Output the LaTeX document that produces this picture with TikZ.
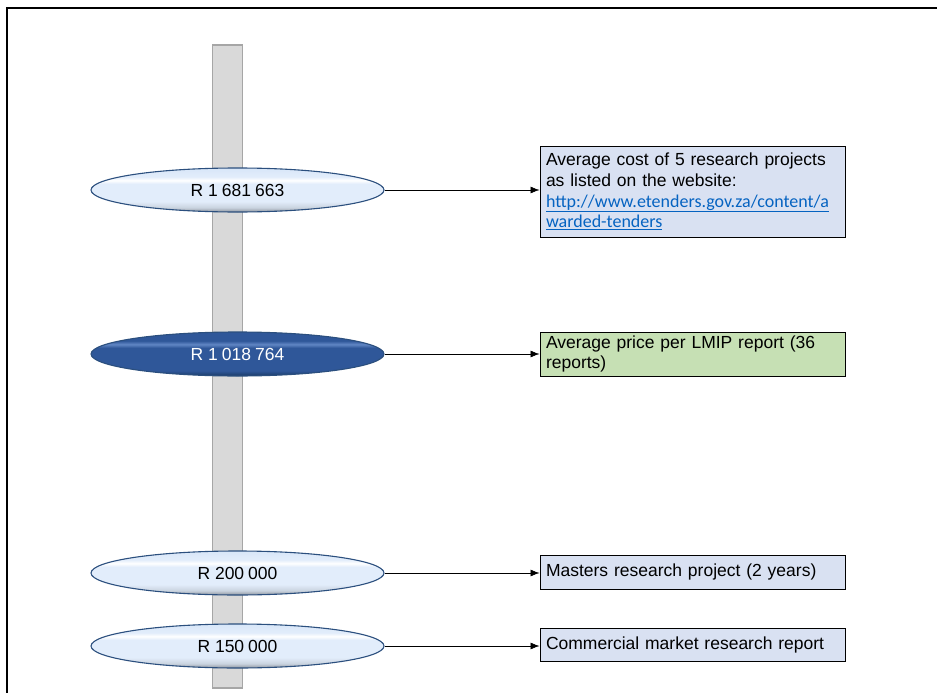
\documentclass[tikz,border=0pt]{standalone}
\usepackage{fontspec}
\setmainfont{Liberation Sans}
\newfontfamily\linkfont{Carlito}
\usetikzlibrary{shapes.geometric,arrows.meta}

\definecolor{pillarfill}{HTML}{D9D9D9}
\definecolor{pillarline}{HTML}{A6A6A6}
\definecolor{gemedge}{HTML}{2B4F7E}
\definecolor{gemgrey}{HTML}{8C949E}
\definecolor{gemsoft}{HTML}{C9D3DF}
\definecolor{gemlight}{HTML}{E2EDFB}
\definecolor{gemtop}{HTML}{D8E6F8}
\definecolor{gemdeep}{HTML}{1B3A66}
\definecolor{gemmid}{HTML}{2F5799}
\definecolor{gemshine}{HTML}{6186C4}
\definecolor{boxblue}{HTML}{D9E1F2}
\definecolor{boxgreen}{HTML}{C6E0B4}
\definecolor{linkblue}{HTML}{0563C1}

% vertical shadings for the value ellipses (bottom = 25bp, top = 75bp)
\pgfdeclareverticalshading{lightgem}{100bp}{%
  color(0bp)=(gemgrey); color(25bp)=(gemgrey); color(30bp)=(gemsoft);
  color(37bp)=(gemlight); color(57bp)=(gemlight); color(61bp)=(white);
  color(65bp)=(gemlight); color(75bp)=(gemtop); color(100bp)=(gemtop)}
\pgfdeclareverticalshading{darkgem}{100bp}{%
  color(0bp)=(gemdeep); color(25bp)=(gemdeep); color(31bp)=(gemmid);
  color(57bp)=(gemmid); color(61bp)=(gemshine); color(65bp)=(gemmid);
  color(75bp)=(gemmid); color(100bp)=(gemmid)}

% underlined hyperlink-style text
\newcommand{\weburl}[1]{{\linkfont\fontsize{18}{20.8}\selectfont\color{linkblue}\underline{#1}}}
% narrow gap between digit groups
\newcommand{\dg}{\hspace{4pt}}

\tikzset{
  gem/.style={ellipse, draw=gemedge, line width=1.1pt, minimum width=293pt,
    minimum height=44pt, inner sep=0pt, shading=lightgem,
    font=\fontsize{17.5}{19}\selectfont, text=black},
  darkgemnode/.style={gem, shading=darkgem, text=white},
  infobox/.style={draw=black, line width=1pt, fill=boxblue, minimum width=305pt,
    text width=293pt, inner xsep=6pt, inner ysep=3pt, align=left,
    font=\fontsize{17.5}{20.8}\selectfont},
  greenbox/.style={infobox, fill=boxgreen},
  link/.style={-{Latex[length=9pt,width=7pt]}, line width=0.6pt, black}
}

\begin{document}
\begin{tikzpicture}[x=1pt,y=-1pt]
  \useasboundingbox (0,0) rectangle (937,693);

  % outer frame (top and left edges)
  \draw[line width=2pt] (7,693) -- (7,8) -- (937,8);

  % vertical scale bar
  \draw[fill=pillarfill, draw=pillarline, line width=1.2pt] (212.5,45) rectangle (242.5,688);

  % value markers
  \node[gem] (v1) at (237.5,190) {R 1\dg681\dg663};
  \node[darkgemnode] (v2) at (237.5,354) {R 1\dg018\dg764};
  \node[gem] (v3) at (237.5,573) {R 200\dg000};
  \node[gem] (v4) at (237.5,646) {R 150\dg000};

  % descriptions
  \node[infobox, minimum height=91pt] (d1) at (692.5,191.5)
    {Average cost of 5 research projects\\as listed on the website:\\
     \weburl{http://www.etenders.gov.za/content/a}\\
     \weburl{warded-tenders}};
  \node[greenbox, minimum height=44pt] (d2) at (692.5,354)
    {Average price per LMIP report (36\\reports)};
  \node[infobox, minimum height=34pt] (d3) at (692.5,572)
    {Masters research project (2 years)};
  \node[infobox, minimum height=33pt] (d4) at (692.5,644.5)
    {Commercial market research report};

  % connectors
  \draw[link] (v1.east) -- (v1.east -| d1.west);
  \draw[link] (v2.east) -- (v2.east -| d2.west);
  \draw[link] (v3.east) -- (v3.east -| d3.west);
  \draw[link] (v4.east) -- (v4.east -| d4.west);
\end{tikzpicture}
\end{document}
